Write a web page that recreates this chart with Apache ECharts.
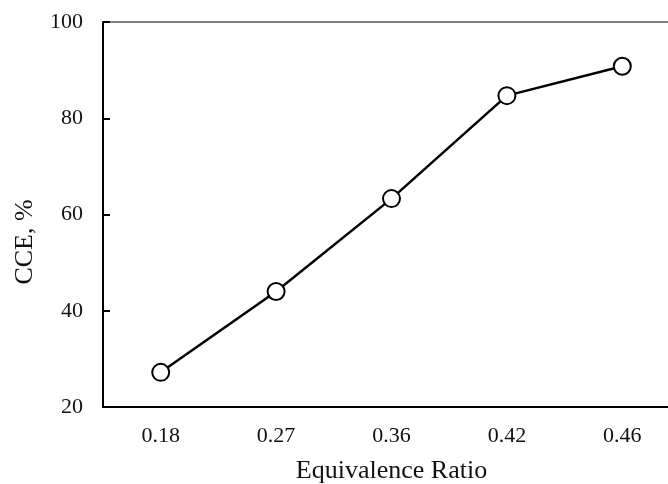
<!DOCTYPE html>
<html>
<head>
<meta charset="utf-8">
<script src="https://cdn.jsdelivr.net/npm/echarts@6/dist/echarts.min.js"></script>
<style>
  html, body { margin: 0; padding: 0; background: #fff; }
  #chart { width: 668px; height: 484px; }
</style>
</head>
<body>
<div id="chart"></div>
<script>
const ratios = ['0.18', '0.27', '0.36', '0.42', '0.46']
const cce = [27.2, 44.0, 63.3, 84.7, 90.8]
const font = '"Liberation Serif", "Times New Roman", serif'

const chart = echarts.init(document.getElementById('chart'))

chart.setOption({
  animation: false,
  grid: { left: 103, top: 22, width: 577, height: 385, outerBoundsMode: 'none', containLabel: false },
  xAxis: [
    {
      type: 'category',
      data: ratios,
      boundaryGap: true,
      name: 'Equivalence Ratio',
      nameLocation: 'middle',
      nameGap: 51,
      nameTextStyle: { fontFamily: font, fontSize: 26, color: '#111' },
      axisLine: { lineStyle: { color: '#000', width: 2 } },
      axisTick: { inside: true, length: 7, lineStyle: { color: '#000', width: 2 } },
      axisLabel: { fontFamily: font, fontSize: 22, color: '#111', margin: 18 },
      splitLine: { show: false }
    },
    {
      type: 'category',
      data: ratios,
      position: 'top',
      axisLine: { lineStyle: { color: '#555', width: 1.5 } },
      axisTick: { show: false },
      axisLabel: { show: false },
      splitLine: { show: false }
    }
  ],
  yAxis: {
    type: 'value',
    min: 20,
    max: 100,
    interval: 20,
    axisLine: { show: true, lineStyle: { color: '#000', width: 2 } },
    axisTick: { show: true, inside: true, length: 7, lineStyle: { color: '#000', width: 2 } },
    axisLabel: { fontFamily: font, fontSize: 22, color: '#111', margin: 20 },
    splitLine: { show: false }
  },
  graphic: [
    {
      type: 'text',
      x: 25,
      y: 242,
      rotation: Math.PI / 2,
      style: {
        text: 'CCE, %',
        font: '26px ' + font,
        fill: '#111',
        textAlign: 'center',
        textVerticalAlign: 'middle'
      }
    }
  ],
  series: [
    {
      type: 'line',
      data: cce,
      symbol: 'circle',
      symbolSize: 17,
      lineStyle: { color: '#000', width: 2.5 },
      itemStyle: { color: '#fff', borderColor: '#000', borderWidth: 2 }
    }
  ]
})
</script>
</body>
</html>
